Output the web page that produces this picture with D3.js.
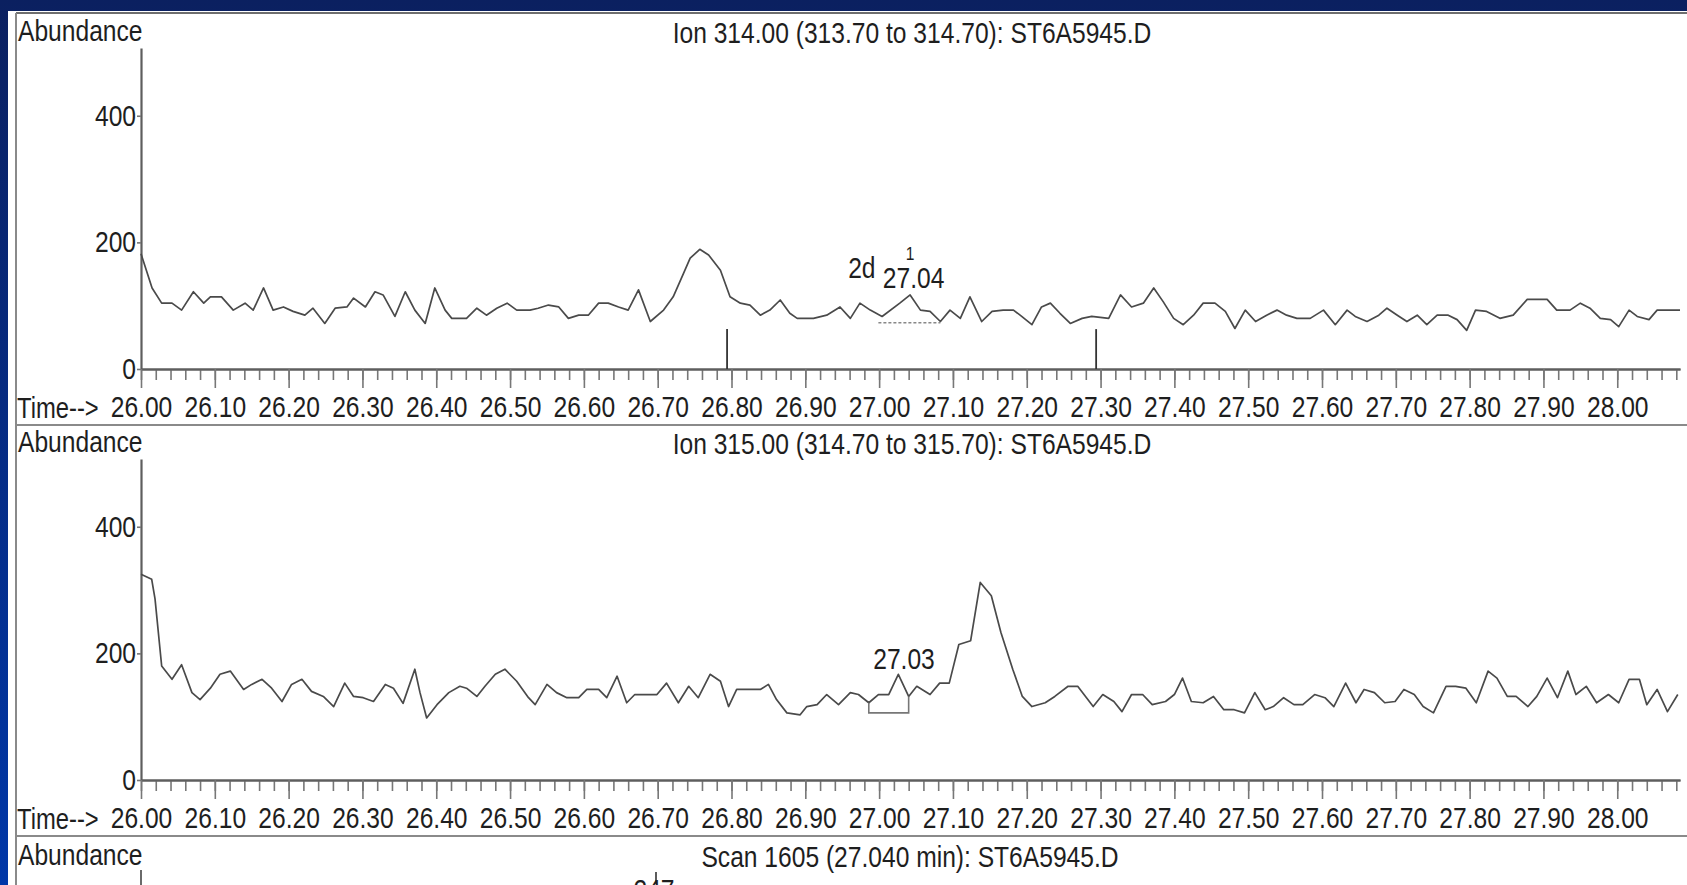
<!DOCTYPE html>
<html>
<head>
<meta charset="utf-8">
<script src="https://cdn.jsdelivr.net/npm/d3@7"></script>
<style>
  html, body { margin: 0; padding: 0; background: #0a2466; overflow: hidden; }
  svg { display: block; }
  text { font-family: 'Liberation Sans Narrow', 'Arial Narrow', 'Liberation Sans', sans-serif; font-size: 30px; fill: #1e1e1e; }
</style>
</head>
<body>
<svg id="board"></svg>
<script>
const boardWidth = 1687;
const boardHeight = 885;

// ion 314 trace (time in min, abundance)
const ion314Time = [26.000, 26.015, 26.028, 26.042, 26.055, 26.071, 26.085, 26.094, 26.109, 26.125,
  26.141, 26.152, 26.166, 26.179, 26.193, 26.206, 26.222, 26.233, 26.249, 26.263,
  26.279, 26.288, 26.304, 26.317, 26.328, 26.344, 26.358, 26.371, 26.385, 26.398,
  26.412, 26.421, 26.441, 26.455, 26.468, 26.482, 26.496, 26.509, 26.527, 26.538,
  26.552, 26.566, 26.579, 26.593, 26.606, 26.620, 26.633, 26.647, 26.660, 26.674,
  26.690, 26.708, 26.721, 26.735, 26.744, 26.757, 26.769, 26.785, 26.798, 26.812,
  26.825, 26.839, 26.852, 26.866, 26.879, 26.889, 26.911, 26.929, 26.947, 26.961,
  26.974, 26.988, 27.004, 27.028, 27.042, 27.056, 27.069, 27.083, 27.096, 27.110,
  27.123, 27.139, 27.153, 27.168, 27.182, 27.191, 27.207, 27.220, 27.232, 27.245,
  27.259, 27.275, 27.288, 27.311, 27.327, 27.342, 27.358, 27.372, 27.385, 27.399,
  27.412, 27.426, 27.439, 27.455, 27.469, 27.482, 27.496, 27.510, 27.525, 27.539,
  27.552, 27.566, 27.584, 27.602, 27.618, 27.634, 27.645, 27.661, 27.677, 27.688,
  27.702, 27.715, 27.729, 27.742, 27.756, 27.771, 27.783, 27.796, 27.808, 27.823,
  27.841, 27.859, 27.878, 27.905, 27.918, 27.936, 27.950, 27.963, 27.977, 27.991,
  28.002, 28.016, 28.027, 28.043, 28.054, 28.085];
const ion314Abund = [182, 128, 104, 104, 93, 122, 104, 114, 114, 93,
  104, 93, 128, 93, 98, 91, 85, 96, 72, 96,
  98, 112, 98, 122, 117, 83, 122, 93, 72, 128,
  93, 80, 80, 96, 85, 96, 104, 93, 93, 96,
  101, 98, 80, 85, 85, 104, 104, 98, 93, 125,
  75, 93, 114, 151, 175, 189, 180, 156, 114, 104,
  101, 85, 93, 109, 88, 80, 80, 85, 98, 80,
  104, 93, 83, 104, 117, 93, 91, 75, 93, 80,
  114, 75, 91, 93, 93, 85, 70, 98, 104, 88,
  72, 80, 83, 80, 117, 98, 104, 128, 106, 80,
  70, 85, 104, 104, 91, 64, 93, 75, 85, 93,
  85, 80, 80, 93, 70, 93, 83, 75, 85, 96,
  85, 75, 85, 70, 85, 85, 78, 61, 93, 91,
  80, 85, 110, 110, 93, 93, 104, 96, 80, 78,
  67, 93, 83, 78, 93, 93];

// ion 315 trace
const ion315Time = [26.000, 26.0145, 26.019, 26.028, 26.042, 26.055, 26.069, 26.080, 26.094, 26.107,
  26.121, 26.139, 26.150, 26.164, 26.177, 26.191, 26.204, 26.218, 26.231, 26.247,
  26.261, 26.276, 26.288, 26.301, 26.315, 26.331, 26.342, 26.355, 26.371, 26.378,
  26.387, 26.401, 26.417, 26.432, 26.441, 26.455, 26.466, 26.480, 26.493, 26.509,
  26.525, 26.534, 26.550, 26.563, 26.577, 26.593, 26.604, 26.620, 26.631, 26.645,
  26.658, 26.669, 26.685, 26.699, 26.712, 26.728, 26.742, 26.755, 26.771, 26.785,
  26.796, 26.807, 26.825, 26.839, 26.850, 26.861, 26.875, 26.893, 26.902, 26.916,
  26.929, 26.945, 26.961, 26.972, 26.986, 26.999, 27.013, 27.026, 27.040, 27.051,
  27.069, 27.082, 27.095, 27.108, 27.124, 27.137, 27.152, 27.165, 27.181, 27.194,
  27.207, 27.225, 27.238, 27.256, 27.269, 27.290, 27.303, 27.318, 27.329, 27.342,
  27.357, 27.370, 27.388, 27.400, 27.411, 27.423, 27.439, 27.453, 27.467, 27.481,
  27.495, 27.509, 27.523, 27.534, 27.548, 27.562, 27.574, 27.590, 27.604, 27.616,
  27.632, 27.646, 27.657, 27.671, 27.685, 27.699, 27.711, 27.725, 27.737, 27.751,
  27.768, 27.781, 27.795, 27.809, 27.825, 27.837, 27.851, 27.863, 27.879, 27.891,
  27.905, 27.919, 27.933, 27.944, 27.958, 27.972, 27.988, 28.002, 28.016, 28.030,
  28.040, 28.054, 28.068, 28.082];
const ion315Abund = [325, 317, 286, 180, 159, 182, 138, 127, 145, 167,
  172, 143, 151, 159, 145, 124, 151, 159, 140, 132,
  116, 153, 132, 130, 124, 151, 145, 121, 175, 138,
  98, 119, 138, 148, 145, 132, 148, 167, 175, 156,
  130, 119, 151, 138, 130, 130, 143, 143, 130, 164,
  122, 135, 135, 135, 153, 122, 148, 130, 167, 156,
  116, 143, 143, 143, 151, 127, 106, 103, 116, 119,
  135, 119, 138, 135, 122, 135, 135, 167, 132, 148,
  135, 153, 153, 214, 220, 312, 291, 233, 175, 132,
  116, 122, 132, 148, 148, 116, 135, 124, 108, 135,
  135, 119, 124, 135, 161, 124, 122, 132, 111, 111,
  106, 138, 111, 116, 130, 119, 119, 135, 130, 116,
  153, 122, 143, 138, 122, 124, 143, 135, 116, 106,
  148, 148, 145, 122, 172, 161, 132, 132, 116, 132,
  161, 130, 172, 135, 148, 122, 135, 122, 159, 159,
  119, 143, 108, 135];

const xTickLabels = ["26.00", "26.10", "26.20", "26.30", "26.40", "26.50", "26.60", "26.70", "26.80", "26.90",
  "27.00", "27.10", "27.20", "27.30", "27.40", "27.50", "27.60", "27.70", "27.80", "27.90", "28.00"];
const yTickValues = [0, 200, 400];
const panelTitles = ["Ion 314.00 (313.70 to 314.70): ST6A5945.D",
  "Ion 315.00 (314.70 to 315.70): ST6A5945.D",
  "Scan 1605 (27.040 min): ST6A5945.D"];

// integration marks and labels
const ion314MarkTimes = [26.794, 27.294];
const ion314MarkHeight = 63;
const ion314BaseTime = [26.999, 27.083];
const ion314BaseAbund = [73, 73];
const ion314LabelText = ["2d", "27.04", "1"];
const ion314LabelTime = [26.958, 27.005, 27.036];
const ion314LabelAbund = [144, 128, 172];
const ion315BaseTime = [26.986, 26.986, 27.040, 27.040];
const ion315BaseAbund = [122, 106, 106, 132];
const ion315LabelText = ["27.03"];
const ion315LabelTime = [26.992];
const ion315LabelAbund = [175];

const timeEnd = 28.085;
const abundanceTop = 507;
const panelStep = 411;

const svgBoard = d3.select("#board").attr("width", boardWidth).attr("height", boardHeight);

const bg = svgBoard.append("defs").append("linearGradient")
  .attr("id", "bluebg").attr("x1", 0).attr("y1", 0).attr("x2", 0).attr("y2", 1);
bg.append("stop").attr("offset", "0%").attr("stop-color", "#0b2060");
bg.append("stop").attr("offset", "100%").attr("stop-color", "#0037a8");
svgBoard.append("rect").attr("width", boardWidth).attr("height", boardHeight).attr("fill", "url(#bluebg)");
svgBoard.append("rect").attr("x", 8).attr("y", 11).attr("width", boardWidth - 8).attr("height", boardHeight - 11)
  .attr("fill", "#ffffff");

const xScale = d3.scaleLinear().domain([26, timeEnd]).range([141, 1680]);
const yScale = d3.scaleLinear().domain([0, abundanceTop]).range([369, 48]);

function styleAxis(g) {
  g.attr("font-size", null).attr("font-family", null);
  g.select(".domain").attr("stroke", "#5e5e5e").attr("stroke-width", 2.2);
  g.selectAll(".tick line").attr("stroke", "#777").attr("stroke-width", 1.6);
}

function drawPanel(index, times, abund) {
  const g = svgBoard.append("g").attr("transform", `translate(0, ${index * panelStep})`);
  g.append("text").attr("x", 18).attr("y", 41).text("Abundance");
  g.append("text").attr("x", 912).attr("y", 43).attr("text-anchor", "middle").text(panelTitles[index]);

  g.append("g").attr("transform", "translate(141, 0)")
    .call(d3.axisLeft(yScale).tickValues(yTickValues).tickSize(4).tickPadding(1).tickSizeOuter(0)
      .tickFormat(d3.format("d")))
    .call(styleAxis);

  g.append("g").attr("transform", "translate(0, 369)")
    .call(d3.axisBottom(xScale).ticks(100).tickSize(11).tickSizeOuter(0).tickFormat(""))
    .call(styleAxis);
  g.append("g").attr("transform", "translate(0, 369)")
    .call(d3.axisBottom(xScale).tickValues(xTickLabels.map(Number)).tickSize(19).tickPadding(8)
      .tickSizeOuter(0).tickFormat((d, i) => xTickLabels[i]))
    .call(styleAxis);
  g.append("text").attr("x", 17).attr("y", 418).style("font-size", "29px").text("Time-->");

  const line = d3.line().x((d, i) => xScale(times[i])).y(d => yScale(d));
  g.append("path").datum(abund).attr("d", line)
    .attr("fill", "none").attr("stroke", "#4a4a4a").attr("stroke-width", 1.7).attr("stroke-linejoin", "round");
  return g;
}

const topPanel = drawPanel(0, ion314Time, ion314Abund);
topPanel.selectAll(".mark").data(ion314MarkTimes).enter().append("line")
  .attr("class", "mark")
  .attr("x1", d => xScale(d)).attr("x2", d => xScale(d))
  .attr("y1", yScale(0)).attr("y2", yScale(ion314MarkHeight))
  .attr("stroke", "#333").attr("stroke-width", 1.8);
topPanel.append("path").datum(ion314BaseAbund)
  .attr("d", d3.line().x((d, i) => xScale(ion314BaseTime[i])).y(d => yScale(d)))
  .attr("fill", "none").attr("stroke", "#888").attr("stroke-width", 1.6).attr("stroke-dasharray", "3,2");
topPanel.selectAll(".plabel").data(ion314LabelText).enter().append("text")
  .attr("class", "plabel")
  .attr("x", (d, i) => xScale(ion314LabelTime[i])).attr("y", (d, i) => yScale(ion314LabelAbund[i]))
  .style("font-size", (d, i) => i === 2 ? "19px" : "30px")
  .text(d => d);

const midPanel = drawPanel(1, ion315Time, ion315Abund);
midPanel.append("path").datum(ion315BaseAbund)
  .attr("d", d3.line().x((d, i) => xScale(ion315BaseTime[i])).y(d => yScale(d)))
  .attr("fill", "none").attr("stroke", "#777").attr("stroke-width", 1.6);
midPanel.selectAll(".plabel").data(ion315LabelText).enter().append("text")
  .attr("class", "plabel")
  .attr("x", (d, i) => xScale(ion315LabelTime[i])).attr("y", (d, i) => yScale(ion315LabelAbund[i]))
  .text(d => d);

// third panel, mostly cut off by the frame
const scanPanel = svgBoard.append("g").attr("transform", `translate(0, ${2 * panelStep})`);
scanPanel.append("text").attr("x", 18).attr("y", 43).text("Abundance");
scanPanel.append("text").attr("x", 910).attr("y", 45).attr("text-anchor", "middle").text(panelTitles[2]);
scanPanel.append("line").attr("x1", 141).attr("x2", 141).attr("y1", 48).attr("y2", 70)
  .attr("stroke", "#6a6a6a").attr("stroke-width", 2);
scanPanel.append("line").attr("x1", 656).attr("x2", 656).attr("y1", 50).attr("y2", 62)
  .attr("stroke", "#333").attr("stroke-width", 1.6);
scanPanel.append("text").attr("x", 654).attr("y", 78).attr("text-anchor", "middle").text("247");

// frame lines
const frame = svgBoard.append("g").attr("stroke", "#8a8a8a").attr("stroke-width", 2);
frame.append("line").attr("x1", 16).attr("x2", boardWidth).attr("y1", 13).attr("y2", 13).attr("stroke", "#6e6e6e");
frame.append("line").attr("x1", 16).attr("x2", boardWidth).attr("y1", 425).attr("y2", 425);
frame.append("line").attr("x1", 16).attr("x2", boardWidth).attr("y1", 836).attr("y2", 836);
frame.append("line").attr("x1", 16).attr("x2", 16).attr("y1", 13).attr("y2", boardHeight);

// squeeze text if no narrow face was found
const probe = svgBoard.append("text").attr("x", -500).attr("y", -500).text("Abundance");
const probeLen = probe.node().getComputedTextLength();
probe.remove();
if (probeLen > 135) {
  svgBoard.selectAll("text").each(function() {
    const len = this.getComputedTextLength();
    if (len > 0) d3.select(this).attr("textLength", len * 0.82).attr("lengthAdjust", "spacingAndGlyphs");
  });
}
</script>
</body>
</html>
